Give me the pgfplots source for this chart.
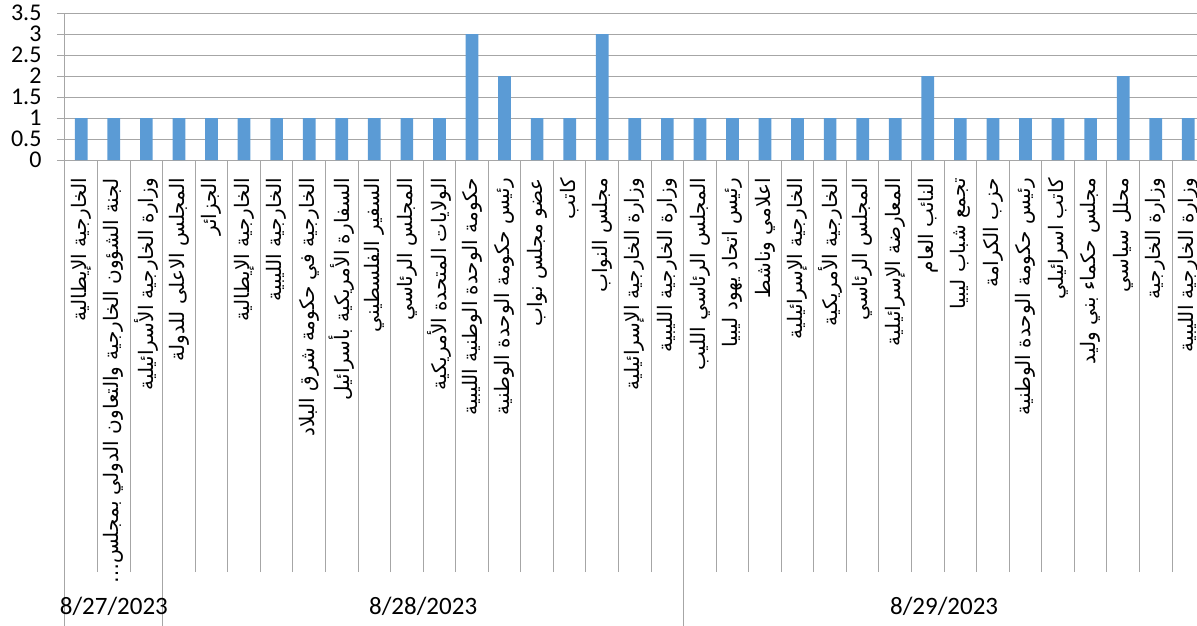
\documentclass[border=0pt]{standalone}
\usepackage{fontspec}
\setmainfont{Carlito}
\newfontfamily\arabicfont[Script=Arabic]{DejaVu Sans}
\TeXXeTstate=1
\usepackage{pgfplots}
\pgfplotsset{compat=1.18}
\definecolor{barblue}{RGB}{91,155,213}
\definecolor{gridgray}{RGB}{166,166,166}

\begin{document}
\begin{tikzpicture}
\begin{axis}[
  name=ax, scale only axis, width=1139.6pt, height=147pt,
  xmin=0.5, xmax=35.5, ymin=0, ymax=3.5, clip=false,
  axis x line*=bottom, axis y line*=left,
  axis line style={-, gridgray, line width=1pt},
  ytick={0,0.5,...,3.5}, ymajorgrids,
  grid style={gridgray, line width=1pt},
  tick align=outside, major tick length=8pt, minor tick length=412pt,
  ytick style={gridgray, line width=1pt},
  major x tick style={draw=none},
  minor x tick style={gridgray, line width=1pt},
  xtick={1,...,35},
  minor xtick={1.5,2.5,...,34.5},
  /pgf/number format/assume math mode=true,
  yticklabel style={font=\fontsize{24}{26}\selectfont, inner ysep=0pt,
    xshift=-12pt},
  xticklabel style={rotate=90, anchor=east, inner xsep=10pt,
    font=\arabicfont\fontsize{20}{23}\selectfont},
  xticklabels={
    {\beginR الخارجية الإيطالية\endR},
    {\beginR لجنة الشؤون الخارجية والتعاون الدولي بمجلس…\endR},
    {\beginR وزارة الخارجية الأسرائيلية\endR},
    {\beginR المجلس الاعلى للدولة\endR},
    {\beginR الجزائر\endR},
    {\beginR الخارجية الإيطالية\endR},
    {\beginR الخارجية الليبية\endR},
    {\beginR الخارجية في حكومة شرق البلاد\endR},
    {\beginR السفارة الأمريكية بأسرائيل\endR},
    {\beginR السفير الفلسطيني\endR},
    {\beginR المجلس الرئاسي\endR},
    {\beginR الولايات المتحدة الأمريكية\endR},
    {\beginR حكومة الوحدة الوطنية الليبية\endR},
    {\beginR رئيس حكومة الوحدة الوطنية\endR},
    {\beginR عضو مجلس نواب\endR},
    {\beginR كاتب\endR},
    {\beginR مجلس النواب\endR},
    {\beginR وزارة الخارجية الإسرائيلية\endR},
    {\beginR وزارة الخارجية الليبية\endR},
    {\beginR المجلس الرئاسي الليب\endR},
    {\beginR رئيس اتحاد يهود ليبيا\endR},
    {\beginR اعلامي وناشط\endR},
    {\beginR الخارجية الإسرائيلية\endR},
    {\beginR الخارجية الأمريكية\endR},
    {\beginR المجلس الرئاسي\endR},
    {\beginR المعارضة الإسرائيلية\endR},
    {\beginR النائب العام\endR},
    {\beginR تجمع شباب ليبيا\endR},
    {\beginR حزب الكرامة\endR},
    {\beginR رئيس حكومة الوحدة الوطنية\endR},
    {\beginR كاتب اسرائيلي\endR},
    {\beginR مجلس حكماء بني وليد\endR},
    {\beginR محلل سياسي\endR},
    {\beginR وزارة الخارجية\endR},
    {\beginR وزارة الخارجية الليبية\endR}},
]
\addplot[ybar, bar width=12.7pt, fill=barblue, draw=none] coordinates {
  (1,1)(2,1)(3,1)(4,1)(5,1)(6,1)(7,1)(8,1)(9,1)(10,1)(11,1)(12,1)
  (13,3)(14,2)(15,1)(16,1)(17,3)(18,1)(19,1)
  (20,1)(21,1)(22,1)(23,1)(24,1)(25,1)(26,1)(27,2)(28,1)(29,1)(30,1)
  (31,1)(32,1)(33,2)(34,1)(35,1)};
% multi-level category axis: date groups
\draw[gridgray, line width=1pt] (axis cs:0.5,0) -- ([yshift=-466pt]axis cs:0.5,0);
\draw[gridgray, line width=1pt] (axis cs:3.5,0) -- ([yshift=-466pt]axis cs:3.5,0);
\draw[gridgray, line width=1pt] (axis cs:19.5,0) -- ([yshift=-466pt]axis cs:19.5,0);
\node[font=\fontsize{25}{30}\selectfont, yshift=-446pt] at (axis cs:2,0) {8/27/2023};
\node[font=\fontsize{25}{30}\selectfont, yshift=-446pt] at (axis cs:11.5,0) {8/28/2023};
\node[font=\fontsize{25}{30}\selectfont, yshift=-446pt] at (axis cs:27.5,0) {8/29/2023};
\end{axis}
\pgfresetboundingbox
\path[use as bounding box] ([shift={(-65pt,-466pt)}]ax.south west) rectangle ([shift={(1132pt,160pt)}]ax.south west);
\end{tikzpicture}
\end{document}
